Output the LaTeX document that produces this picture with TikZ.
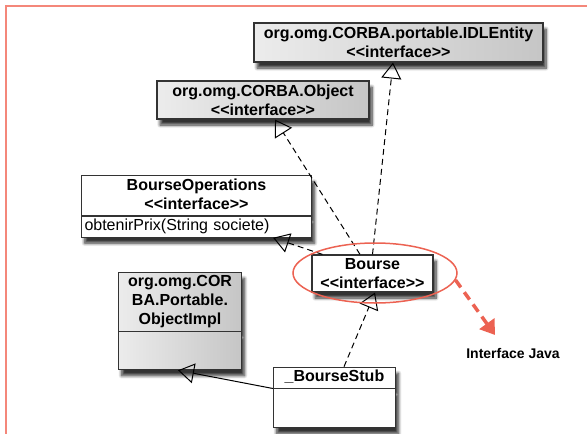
\documentclass[tikz,border=0pt]{standalone}
\usepackage{fontspec}
\setmainfont{Liberation Sans}
\usepackage{xcolor}
\usepackage{tikz}
\usetikzlibrary{positioning,shapes,shapes.multipart,shadows,shadows.blur,arrows.meta,calc}

\definecolor{salmon}{HTML}{F4877A}
\definecolor{markred}{HTML}{EC6252}
\newcommand{\stereo}[1]{<\kern0pt<#1>\kern0pt>}

\begin{document}
\begin{tikzpicture}[x=1pt, y=-1pt,
        uml/.style={draw=black!80, line width=1.2pt, inner xsep=3pt, inner ysep=0.5pt,
            font=\fontsize{16}{19}\selectfont\bfseries, align=center,
            blur shadow={shadow xshift=3pt, shadow yshift=-6pt, shadow opacity=80,
                shadow blur radius=3pt, shadow blur steps=8}},
        greybox/.style={uml, left color=gray!15, right color=gray!45},
        whitebox/.style={uml, fill=white},
        split/.style={rectangle split, rectangle split parts=2, rectangle split draw splits},
        realise/.style={line width=1pt, dash pattern=on 6pt off 4pt,
            -{Triangle[open, width=20pt, length=16pt, line width=1pt]}},
        extends/.style={line width=1pt, -{Triangle[open, width=20pt, length=16pt, line width=1pt]}},
        hint/.style={draw=markred, line width=1.5pt}]
    \useasboundingbox (0,0) rectangle (587,434);
    \draw[salmon, line width=1.5pt] (6,434) -- (6,6) -- (587,6);

    % interfaces
    \node[greybox, minimum width=289pt, minimum height=39pt] (idl) at (398.5,42.5)
        {org.omg.CORBA.portable.IDLEntity\\\stereo{interface}};
    \node[greybox, minimum width=212pt, minimum height=38pt] (object) at (263,100)
        {org.omg.CORBA.Object\\\stereo{interface}};
    \node[whitebox, split, text width=224pt] (ops) at (196.5,206.5)
        {\strut BourseOperations\\\stereo{interface}\strut
         \nodepart{two}\mdseries\strut obtenirPrix(String societe)\hskip 0pt plus 1filll\mbox{}};
    \node[whitebox, minimum width=121pt, minimum height=37pt] (bourse) at (372.5,273.5)
        {Bourse\\\stereo{interface}};

    % classes
    \node[greybox, split, text width=117pt] (impl) at (180,321)
        {\strut org.omg.COR\\BA.Portable.\\ObjectImpl\strut
         \nodepart{two}\rule{0pt}{36pt}};
    \node[whitebox, split, text width=116pt] (stub) at (334.5,397.5)
        {\strut\_BourseStub
         \nodepart{two}\rule{0pt}{37pt}};

    \draw[realise] (bourse.north) -- ([xshift=-5.5pt]idl.south);
    \draw[realise] ([xshift=-12.5pt]bourse.north) -- ([xshift=12pt]object.south);
    \draw[realise] ([xshift=11pt]bourse.north west) -- ([xshift=-39pt]ops.south east);
    \draw[realise] ([xshift=9.5pt]stub.north) -- ([xshift=2.5pt]bourse.south);
    \draw[extends] (stub.text split west) -- ([xshift=-2pt]impl.south);

    % annotation
    \node[hint, ellipse, minimum width=164pt, minimum height=60pt] (focus) at (375,273) {};
    \node[font=\fontsize{14}{16}\selectfont\bfseries] (javalabel) at (513,353) {Interface Java};
    \coordinate (tip) at (495,335);
    \draw[markred, line width=3.5pt, dash pattern=on 9pt off 6pt,
        -{Triangle[width=18pt, length=14pt]}] (focus.-5) -- (tip);
\end{tikzpicture}
\end{document}
